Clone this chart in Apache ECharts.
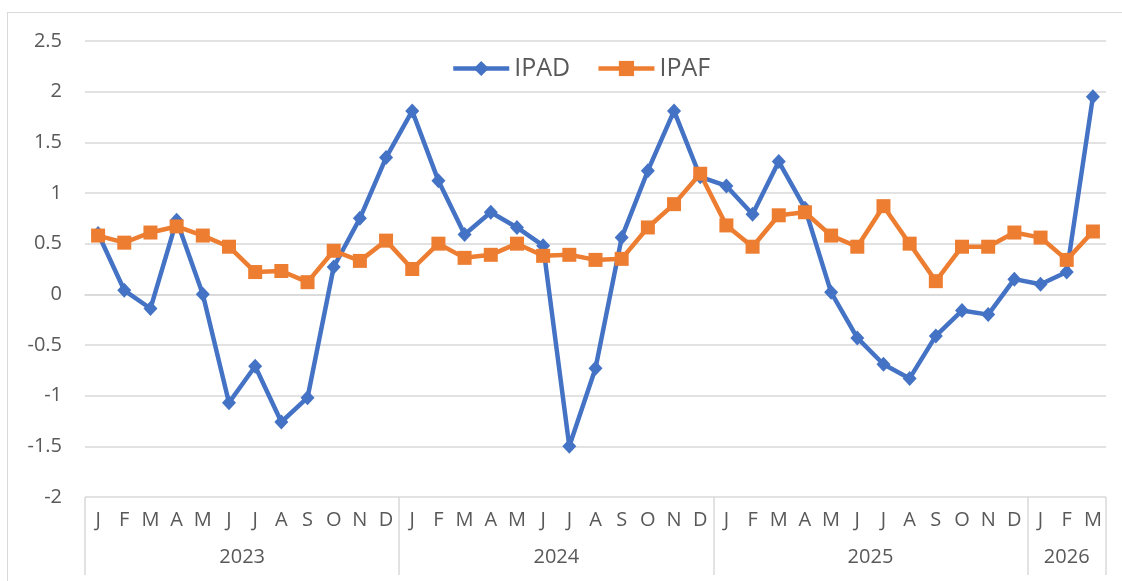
<!DOCTYPE html>
<html>
<head>
<meta charset="utf-8">
<script src="https://cdn.jsdelivr.net/npm/echarts@6/dist/echarts.min.js"></script>
<style>
html,body{margin:0;padding:0;background:#fff;overflow:hidden;}
#frame{position:absolute;left:7px;top:12px;width:1120px;height:600px;border:1px solid #d9d9d9;box-sizing:border-box;}
#chart{position:absolute;left:0;top:0;width:1122px;height:581px;}
</style>
</head>
<body>
<div id="frame"></div>
<div id="chart"></div>
<script>
const years = ['2023','2024','2025','2026'];
const monthLetters = ['J','F','M','A','M','J','J','A','S','O','N','D'];
const monthsPerYear = [12, 12, 12, 3];
const yTicks = {min: -2, max: 2.5, interval: 0.5};

const IPAD = [0.6,0.04,-0.14,0.73,0.0,-1.07,-0.71,-1.26,-1.02,0.27,0.75,1.35,
              1.81,1.12,0.59,0.81,0.66,0.48,-1.5,-0.73,0.56,1.22,1.81,1.16,
              1.07,0.79,1.31,0.85,0.02,-0.43,-0.69,-0.83,-0.41,-0.16,-0.2,0.15,
              0.1,0.22,1.95];
const IPAF = [0.58,0.51,0.61,0.67,0.58,0.47,0.22,0.23,0.12,0.43,0.33,0.53,
              0.25,0.5,0.36,0.39,0.5,0.38,0.39,0.34,0.35,0.66,0.89,1.19,
              0.68,0.47,0.78,0.81,0.58,0.47,0.87,0.5,0.13,0.47,0.47,0.61,
              0.56,0.34,0.62];

// build category list
const categories = [];
const monthOf = [];
const yearStart = {};
const yearLabelAt = {};
years.forEach((y, yi) => {
  const n = monthsPerYear[yi];
  const start = categories.length;
  for (let m = 0; m < n; m++) {
    categories.push(y + '-' + m);
    monthOf.push(monthLetters[m]);
  }
  yearStart[start] = true;
  if (n % 2 === 0) yearLabelAt[start + n / 2] = {year: y, shift: true};
  else yearLabelAt[start + (n - 1) / 2] = {year: y, shift: false};
});

const txt = '#595959';
const grid = '#d9d9d9';
const font = "'Open Sans', sans-serif";

const chart = echarts.init(document.getElementById('chart'), null, {renderer: 'canvas'});
chart.setOption({
  animation: false,
  backgroundColor: 'transparent',
  textStyle: {fontFamily: font},
  legend: {
    left: 446, top: 51,
    itemWidth: 56, itemHeight: 19, itemGap: 26,
    lineStyle: {width: 4.5},
    textStyle: {color: txt, fontSize: 25, fontFamily: font},
    data: ['IPAD', 'IPAF']
  },
  grid: {left: 85, right: 16, top: 41, bottom: 84, containLabel: false},
  xAxis: [
    {
      type: 'category', data: categories, position: 'bottom', boundaryGap: true,
      axisLine: {show: true, lineStyle: {color: grid, width: 1.5}},
      axisTick: {show: false},
      axisLabel: {interval: 0, color: txt, fontSize: 20, fontFamily: font, margin: 13,
        formatter: (v, i) => monthOf[i]}
    },
    {
      type: 'category', data: categories, position: 'bottom', boundaryGap: true,
      axisLine: {show: false},
      axisTick: {show: true, length: 78, interval: (i) => !!yearStart[i],
        lineStyle: {color: grid, width: 1.5}},
      axisLabel: {color: txt, fontSize: 20, fontFamily: font, margin: 50,
        interval: (i) => !!yearLabelAt[i],
        formatter: (v, i) => {
          const e = yearLabelAt[i];
          if (!e) return '';
          return e.shift ? '{s|' + e.year + '}' : '{n|' + e.year + '}';
        },
        rich: {
          s: {padding: [0, 26, 0, 0], color: txt, fontSize: 20, fontFamily: font},
          n: {color: txt, fontSize: 20, fontFamily: font}
        }
      }
    }
  ],
  yAxis: {
    type: 'value', min: yTicks.min, max: yTicks.max, interval: yTicks.interval,
    axisLine: {show: false}, axisTick: {show: false},
    axisLabel: {color: txt, fontSize: 20, fontFamily: font, margin: 23},
    splitLine: {lineStyle: {color: grid, width: 1.5}}
  },
  series: [
    {
      name: 'IPAD', type: 'line', data: IPAD, xAxisIndex: 0,
      symbol: 'diamond', symbolSize: [14, 15],
      lineStyle: {color: '#4472C4', width: 4.5},
      itemStyle: {color: '#4472C4'}
    },
    {
      name: 'IPAF', type: 'line', data: IPAF, xAxisIndex: 0,
      symbol: 'rect', symbolSize: 14,
      lineStyle: {color: '#ED7D31', width: 4.5},
      itemStyle: {color: '#ED7D31'}
    }
  ]
});
</script>
</body>
</html>
